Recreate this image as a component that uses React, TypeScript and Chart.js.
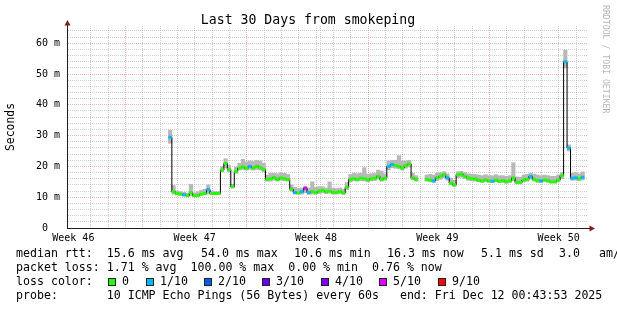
import React, { useEffect, useRef } from 'react';
import { Chart, registerables } from 'chart.js';

Chart.register(...registerables);

const FONT = '"DejaVu Sans Mono", monospace';

const TITLE = 'Last 30 Days from smokeping';
const Y_TITLE = 'Seconds';
const WATERMARK = 'RRDTOOL / TOBI OETIKER';

// x axis: days since the start of the 30 day window
const X_MIN = 0;
const X_MAX = 30;
const WEEK_LABELS = ['Week 46', 'Week 47', 'Week 48', 'Week 49', 'Week 50'];
const WEEK_LABEL_DAYS = [0.366, 7.366, 14.366, 21.366, 28.366];
const WEEK_LINE_DAYS = [3.866, 10.866, 17.866, 24.866];
const FIRST_DAY_LINE = 0.866;
const DAY_LINE_COUNT = 30;

// y axis: milliseconds
const Y_MIN = 0;
const Y_MAX = 65.6;
const Y_MINOR_STEP = 2;
const Y_MAJOR = [0, 10, 20, 30, 40, 50, 60];
const Y_LABELS = ['0  ', '10 m', '20 m', '30 m', '40 m', '50 m', '60 m'];

// samples: one every 0.2 day starting at day 5.95
const START_DAY = 5.95;
const STEP_DAY = 0.2;

const median: (number | null)[] = [
  29.5, 11.8, 11.2, 11.0, 10.8, 10.5, 11.5, 10.5, 10.6, 11.0,
  11.2, 12.5, 11.2, 11.2, 11.2, 18.8, 21.0, 19.0, 13.4, 18.3,
  19.5, 19.8, 19.4, 20.0, 19.5, 20.0, 19.6, 19.0, 15.8, 16.0,
  16.4, 15.8, 16.3, 16.0, 15.8, 12.6, 11.5, 11.4, 11.8, 12.9,
  11.5, 11.8, 11.5, 12.0, 12.2, 11.8, 12.0, 11.6, 11.5, 11.8,
  11.4, 13.2, 15.8, 16.0, 15.8, 16.2, 16.0, 15.6, 16.0, 16.2,
  16.8, 15.8, 16.2, 20.0, 20.6, 20.3, 20.0, 19.5, 20.3, 20.8,
  16.2, 15.8, null, null, 15.8, 15.6, 15.3, 16.3, 16.8, 17.3,
  16.3, 14.6, 14.0, 17.3, 17.5, 16.8, 16.2, 16.0, 16.0, 15.5,
  15.3, 15.6, 15.3, 15.2, 15.6, 15.2, 15.4, 15.0, 15.3, 16.3,
  14.8, 14.8, 15.6, 15.8, 16.8, 15.8, 15.4, 15.3, 15.6, 15.4,
  15.0, 15.0, 15.6, 17.0, 54.0, 26.0, 16.2, 16.3, 16.0, 16.5,
];

const smokeLo: (number | null)[] = [
  27.5, 11.0, 10.7, 10.6, 10.4, 10.2, 10.4, 10.2, 10.3, 10.6,
  10.8, 11.0, 10.9, 10.9, 10.9, 18.2, 19.5, 18.3, 13.0, 17.8,
  18.8, 19.0, 18.8, 19.0, 18.8, 19.0, 18.8, 18.2, 15.2, 15.2,
  15.5, 15.2, 15.5, 15.3, 15.2, 12.0, 11.0, 10.9, 11.0, 11.5,
  10.9, 11.0, 11.0, 11.2, 11.4, 11.2, 11.3, 11.0, 11.0, 11.2,
  10.9, 12.5, 15.0, 15.3, 15.2, 15.4, 15.3, 15.0, 15.3, 15.4,
  15.8, 15.2, 15.5, 19.0, 19.6, 19.4, 19.2, 18.8, 19.4, 19.8,
  15.6, 15.2, null, null, 15.2, 15.0, 14.8, 15.4, 15.8, 16.3,
  15.5, 14.0, 13.5, 16.3, 16.5, 16.0, 15.5, 15.3, 15.2, 15.0,
  14.8, 15.0, 14.8, 14.7, 15.0, 14.7, 14.8, 14.5, 14.8, 15.3,
  14.3, 14.3, 15.0, 15.2, 15.8, 15.2, 14.8, 14.8, 15.0, 14.8,
  14.6, 14.6, 15.0, 16.0, 52.0, 25.0, 15.5, 15.6, 15.4, 15.6,
];

const smokeHi: (number | null)[] = [
  31.8, 13.8, 12.0, 11.8, 11.6, 11.3, 14.2, 11.4, 11.8, 12.3,
  12.6, 14.0, 12.0, 11.8, 11.8, 20.0, 22.5, 20.3, 14.2, 19.8,
  21.0, 22.3, 21.5, 21.8, 21.6, 22.0, 21.8, 21.0, 17.2, 17.8,
  17.8, 17.6, 17.9, 17.8, 17.4, 14.0, 13.2, 12.8, 13.0, 13.6,
  13.0, 15.0, 13.2, 13.4, 13.4, 13.0, 15.0, 13.0, 12.8, 13.0,
  12.6, 14.8, 17.4, 17.8, 17.6, 17.8, 19.6, 17.5, 17.6, 17.8,
  18.8, 18.5, 17.6, 21.8, 22.0, 22.0, 23.5, 21.8, 21.8, 22.0,
  17.8, 17.0, null, null, 17.2, 17.4, 17.2, 17.8, 18.0, 18.3,
  17.6, 16.2, 15.5, 18.3, 18.4, 18.0, 17.6, 17.5, 17.4, 17.2,
  17.0, 17.3, 17.0, 17.0, 17.3, 17.0, 17.0, 16.8, 17.0, 21.2,
  16.6, 16.5, 17.2, 17.4, 17.8, 17.5, 17.2, 17.0, 17.2, 17.0,
  16.8, 16.8, 17.2, 18.0, 57.8, 27.0, 17.8, 18.0, 17.6, 18.2,
];

// packet loss per sample, in tenths (10 pings per sample)
const lossTenths: number[] = [
  1, 0, 0, 0, 1, 0, 0, 0, 0, 0,
  0, 1, 0, 0, 0, 0, 0, 0, 0, 0,
  0, 0, 0, 1, 0, 0, 0, 0, 0, 0,
  0, 0, 0, 0, 0, 0, 1, 0, 1, 5,
  1, 0, 0, 0, 0, 0, 0, 0, 0, 0,
  0, 0, 0, 0, 0, 0, 0, 0, 0, 0,
  0, 0, 0, 1, 1, 0, 0, 0, 0, 0,
  0, 0, 0, 0, 0, 0, 1, 0, 0, 0,
  1, 0, 0, 0, 0, 0, 0, 0, 0, 0,
  0, 0, 0, 1, 0, 0, 0, 0, 0, 0,
  0, 0, 0, 0, 1, 0, 0, 1, 0, 0,
  0, 0, 0, 0, 1, 1, 1, 1, 0, 1,
];

const LOSS_STEPS = [0, 1, 2, 3, 4, 5, 9];
const LOSS_LABELS = ['0', '1/10', '2/10', '3/10', '4/10', '5/10', '9/10'];
const LOSS_COLORS = ['#26ff00', '#00b8ff', '#0059ff', '#5e00ff', '#7e00ff', '#dd00ff', '#ff0000'];

// footer text, first row is justified by rrdtool so it is kept in segments
const STATS_ROW: [string, number][] = [
  ['median rtt:  15.6 ms avg', 16],
  ['54.0 ms max', 201],
  ['10.6 ms min', 294],
  ['16.3 ms now', 387],
  ['5.1 ms sd', 481],
  ['3.0', 559],
  ['am/as', 599],
];
const LOSS_ROW = 'packet loss: 1.71 % avg  100.00 % max  0.00 % min  0.76 % now';
const LEGEND_TITLE = 'loss color:';
const PROBE_ROW = 'probe:       10 ICMP Echo Pings (56 Bytes) every 60s   end: Fri Dec 12 00:43:53 2025';

const GRID_COLOR = 'rgba(143,143,143,0.42)';
const MGRID_COLOR = 'rgba(222,79,79,0.42)';
const AXIS_COLOR = '#1f1f1f';
const ARROW_COLOR = '#801f1f';
const SMOKE_COLOR = '#b8b8b8';

function lossColor(t: number): string {
  let idx = 0;
  for (let i = 0; i < LOSS_STEPS.length; i++) if (t >= LOSS_STEPS[i]) idx = i;
  return LOSS_COLORS[idx];
}

const extrasPlugin = {
  id: 'smokeExtras',
  beforeDraw(chart: any) {
    const ctx = chart.ctx;
    ctx.save();
    ctx.fillStyle = '#ffffff';
    ctx.fillRect(0, 0, chart.width, chart.height);
    ctx.restore();
  },
  afterDraw(chart: any) {
    const ctx: CanvasRenderingContext2D = chart.ctx;
    const a = chart.chartArea;
    ctx.save();
    ctx.fillStyle = '#000';
    ctx.font = `13.2px ${FONT}`;
    ctx.textAlign = 'center';
    ctx.textBaseline = 'alphabetic';
    ctx.fillText(TITLE, 308, 23.5);

    const left = Math.round(a.left) + 0.5;
    const bottom = Math.round(a.bottom) + 0.5;
    ctx.strokeStyle = AXIS_COLOR;
    ctx.lineWidth = 1;
    ctx.beginPath();
    ctx.moveTo(left, a.top);
    ctx.lineTo(left, a.top - 3);
    ctx.moveTo(a.right, bottom);
    ctx.lineTo(a.right + 3, bottom);
    ctx.stroke();
    ctx.fillStyle = ARROW_COLOR;
    ctx.beginPath();
    ctx.moveTo(left, a.top - 6);
    ctx.lineTo(left - 3, a.top - 0.5);
    ctx.lineTo(left + 3, a.top - 0.5);
    ctx.closePath();
    ctx.fill();
    ctx.beginPath();
    ctx.moveTo(a.right + 8, bottom);
    ctx.lineTo(a.right + 2.5, bottom - 3);
    ctx.lineTo(a.right + 2.5, bottom + 3);
    ctx.closePath();
    ctx.fill();

    ctx.save();
    ctx.translate(605, 5);
    ctx.rotate(Math.PI / 2);
    ctx.fillStyle = 'rgba(0,0,0,0.3)';
    ctx.font = `8.2px ${FONT}`;
    ctx.textAlign = 'left';
    ctx.textBaseline = 'middle';
    ctx.fillText(WATERMARK, 0, 0);
    ctx.restore();

    ctx.fillStyle = '#000';
    ctx.font = `11.6px ${FONT}`;
    ctx.textAlign = 'left';
    ctx.textBaseline = 'alphabetic';
    STATS_ROW.forEach(([txt, x]) => ctx.fillText(txt, x, 257));
    ctx.fillText(LOSS_ROW, 16, 271);
    ctx.fillText(LEGEND_TITLE, 16, 285);
    ctx.fillText(PROBE_ROW, 16, 299);
    const boxX = [108, 146, 204, 262, 321, 379, 438];
    LOSS_LABELS.forEach((lab, i) => {
      ctx.fillStyle = LOSS_COLORS[i];
      ctx.fillRect(boxX[i], 278, 8, 8);
      ctx.strokeStyle = '#222';
      ctx.lineWidth = 1;
      ctx.strokeRect(boxX[i] + 0.5, 278.5, 7, 7);
      ctx.fillStyle = '#000';
      ctx.fillText(lab, boxX[i] + 14, 285);
    });
    ctx.restore();
  },
};

export default function App() {
  const ref = useRef<HTMLCanvasElement>(null);
  useEffect(() => {
    const times = median.map((_, i) => START_DAY + i * STEP_DAY);
    const medianPts = times.map((t, i) => ({ x: t, y: median[i] }));
    const smokePts = times.map((t, i) => ({
      x: t,
      y: smokeLo[i] == null || smokeHi[i] == null ? null : [smokeLo[i], smokeHi[i]],
    }));
    const colors = lossTenths.map(lossColor);
    const dayLines = Array.from({ length: DAY_LINE_COUNT }, (_, i) => FIRST_DAY_LINE + i);
    const isWeekLine = (v: number) => WEEK_LINE_DAYS.some((w) => Math.abs(w - v) < 1e-6);
    const xTickValues = [...WEEK_LABEL_DAYS, ...dayLines];

    const chart = new Chart(ref.current as HTMLCanvasElement, {
      type: 'line',
      data: {
        datasets: [
          {
            type: 'bar',
            label: 'smoke',
            data: smokePts as any,
            backgroundColor: SMOKE_COLOR,
            borderWidth: 0,
            barPercentage: 1,
            categoryPercentage: 1,
            grouped: false,
            order: 3,
          } as any,
          {
            type: 'line',
            label: 'median',
            data: medianPts as any,
            borderColor: '#000',
            borderWidth: 1,
            pointRadius: 0,
            stepped: 'middle',
            spanGaps: false,
            order: 2,
          },
          {
            type: 'line',
            label: 'loss',
            data: medianPts as any,
            showLine: false,
            pointStyle: 'line',
            pointRadius: 1.8,
            pointBorderWidth: 3,
            pointBorderColor: colors,
            pointBackgroundColor: colors,
            pointHoverRadius: 1.8,
            order: 1,
          },
        ],
      },
      options: {
        animation: false,
        responsive: false,
        events: [],
        layout: { padding: { top: 26, right: 30, left: 0, bottom: 0 } },
        plugins: { legend: { display: false }, title: { display: false }, tooltip: { enabled: false } },
        scales: {
          x: {
            type: 'linear',
            min: X_MIN,
            max: X_MAX,
            offset: false,
            afterBuildTicks: (s: any) => {
              s.ticks = xTickValues.map((v) => ({ value: v }));
            },
            afterFit: (s: any) => {
              s.height = 82;
            },
            ticks: {
              autoSkip: false,
              maxRotation: 0,
              minRotation: 0,
              padding: 4,
              color: '#000',
              font: { family: FONT, size: 10 },
              callback: (_v: any, i: number) => (i < WEEK_LABELS.length ? WEEK_LABELS[i] : ''),
            },
            grid: {
              drawTicks: false,
              lineWidth: 1,
              color: (c: any) => {
                const i = c && typeof c.index === 'number' ? c.index : -1;
                if (i < 0 || i >= xTickValues.length) return GRID_COLOR;
                if (i < WEEK_LABELS.length) return 'rgba(0,0,0,0)';
                return isWeekLine(xTickValues[i]) ? MGRID_COLOR : GRID_COLOR;
              },
            },
            border: { display: true, color: AXIS_COLOR, width: 1, dash: [1, 1] },
          },
          y: {
            type: 'linear',
            min: Y_MIN,
            max: Y_MAX,
            afterBuildTicks: (s: any) => {
              const t: { value: number }[] = [];
              for (let v = Y_MIN; v <= Y_MAX; v += Y_MINOR_STEP) t.push({ value: v });
              s.ticks = t;
            },
            afterFit: (s: any) => {
              s.width = 67;
            },
            ticks: {
              autoSkip: false,
              padding: 7,
              color: '#000',
              font: { family: FONT, size: 10 },
              callback: (v: any) => {
                const i = Y_MAJOR.indexOf(Number(v));
                return i >= 0 ? Y_LABELS[i] : '';
              },
            },
            grid: {
              drawTicks: false,
              lineWidth: 1,
              color: (c: any) => {
                const v = c && c.tick ? c.tick.value : null;
                return v != null && Y_MAJOR.includes(v) ? MGRID_COLOR : GRID_COLOR;
              },
            },
            border: { display: true, color: AXIS_COLOR, width: 1, dash: [1, 1] },
            title: {
              display: true,
              text: Y_TITLE,
              color: '#000',
              font: { family: FONT, size: 11.4 },
              padding: { top: 4, bottom: 0 },
            },
          },
        },
      },
      plugins: [extrasPlugin],
    } as any);
    return () => chart.destroy();
  }, []);
  return (
    <div style={{ position: 'fixed', left: 0, top: 0, width: 617, height: 310, background: '#fff' }}>
      <canvas ref={ref} width={617} height={310} style={{ display: 'block', width: 617, height: 310 }} />
    </div>
  );
}
